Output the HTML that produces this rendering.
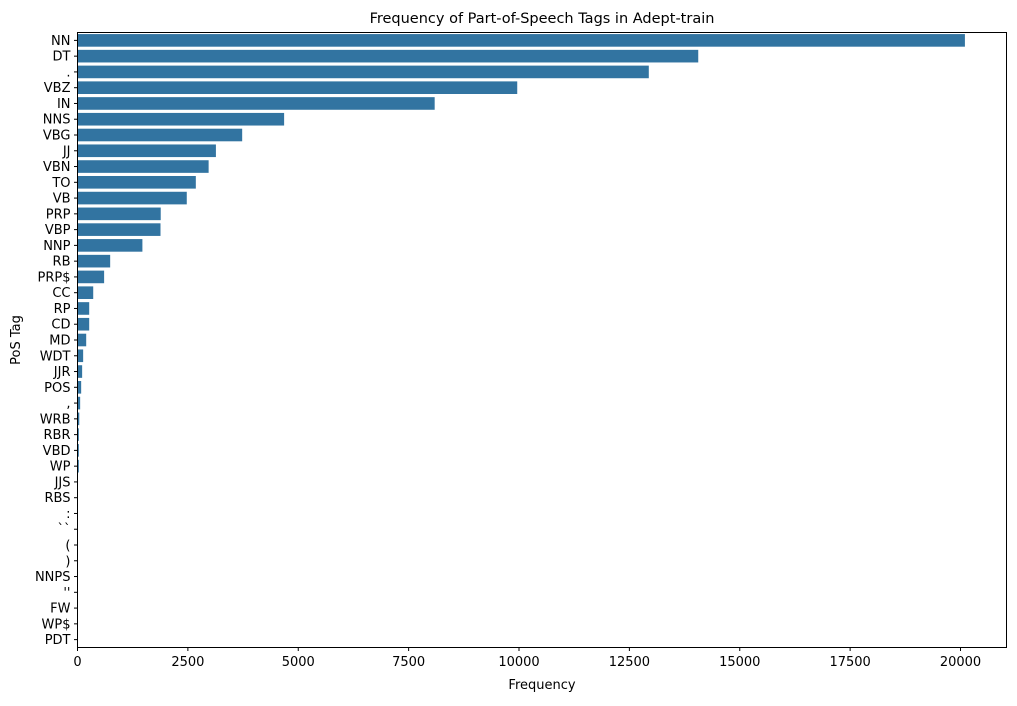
<!DOCTYPE html>
<html><head><meta charset="utf-8"><style>
body{margin:0;background:#fff}
svg text{font-family:"DejaVu Sans","Liberation Sans",sans-serif;fill:#000}
</style></head><body>
<svg id="chart" width="1017" height="701" xmlns="http://www.w3.org/2000/svg">
<text x="542" y="23" font-size="14.5" text-anchor="middle">Frequency of Part-of-Speech Tags in Adept-train</text>
<g id="bars"></g>
<g id="yticks"></g>
<g id="xticks"></g>
<rect x="77.5" y="32.5" width="929" height="615" fill="none" stroke="#000" stroke-width="1"/>
<text x="542" y="689" font-size="13" text-anchor="middle">Frequency</text>
<text x="0" y="0" font-size="13" text-anchor="middle" transform="translate(20,340) rotate(-90)">PoS Tag</text>
</svg>
<script>
const categories=["NN","DT",".","VBZ","IN","NNS","VBG","JJ","VBN","TO","VB","PRP","VBP","NNP","RB","PRP$","CC","RP","CD","MD","WDT","JJR","POS",",","WRB","RBR","VBD","WP","JJS","RBS",":","``","(",")","NNPS","''","FW","WP$","PDT"];
const values=[20100,14060,12940,9960,8090,4680,3730,3135,2970,2680,2475,1885,1880,1470,740,603,356,265,265,197,128,105,83,60,40,30,30,30,4,3,2,2,1,1,1,1,1,1,1];
const xTicks=[0,2500,5000,7500,10000,12500,15000,17500,20000];
const NS="http://www.w3.org/2000/svg";
const x0=77.5,pxPer=883/20000,yTop=32.5,step=615/categories.length;
const xs=v=>x0+v*pxPer;
const ys=i=>yTop+step*(i+0.5);
const bars=document.getElementById('bars'),yt=document.getElementById('yticks'),xt=document.getElementById('xticks');
categories.forEach((c,i)=>{
  const r=document.createElementNS(NS,'rect');
  
  
  r.setAttribute('x',x0);r.setAttribute('y',ys(i)-step*0.4);
  r.setAttribute('width',Math.max(0,xs(values[i])-x0));r.setAttribute('height',step*0.8);
  r.setAttribute('fill','#3274a1');bars.appendChild(r);
  const l=document.createElementNS(NS,'line');
  
  
  l.setAttribute('x1',x0-3.5);l.setAttribute('x2',x0);l.setAttribute('y1',ys(i));l.setAttribute('y2',ys(i));
  l.setAttribute('stroke','#000');yt.appendChild(l);
  const t=document.createElementNS(NS,'text');
  
  
  t.setAttribute('x',x0-7);t.setAttribute('y',ys(i)+4.5);t.setAttribute('font-size','13');t.setAttribute('text-anchor','end');
  t.textContent=c;yt.appendChild(t);
});
xTicks.forEach(v=>{
  const l=document.createElementNS(NS,'line');
  
  
  l.setAttribute('x1',xs(v));l.setAttribute('x2',xs(v));l.setAttribute('y1',647.5);l.setAttribute('y2',651);
  l.setAttribute('stroke','#000');xt.appendChild(l);
  const t=document.createElementNS(NS,'text');
  
  
  t.setAttribute('x',xs(v));t.setAttribute('y',666);t.setAttribute('font-size','13');t.setAttribute('text-anchor','middle');
  t.textContent=v;xt.appendChild(t);
});
</script>
</body></html>
